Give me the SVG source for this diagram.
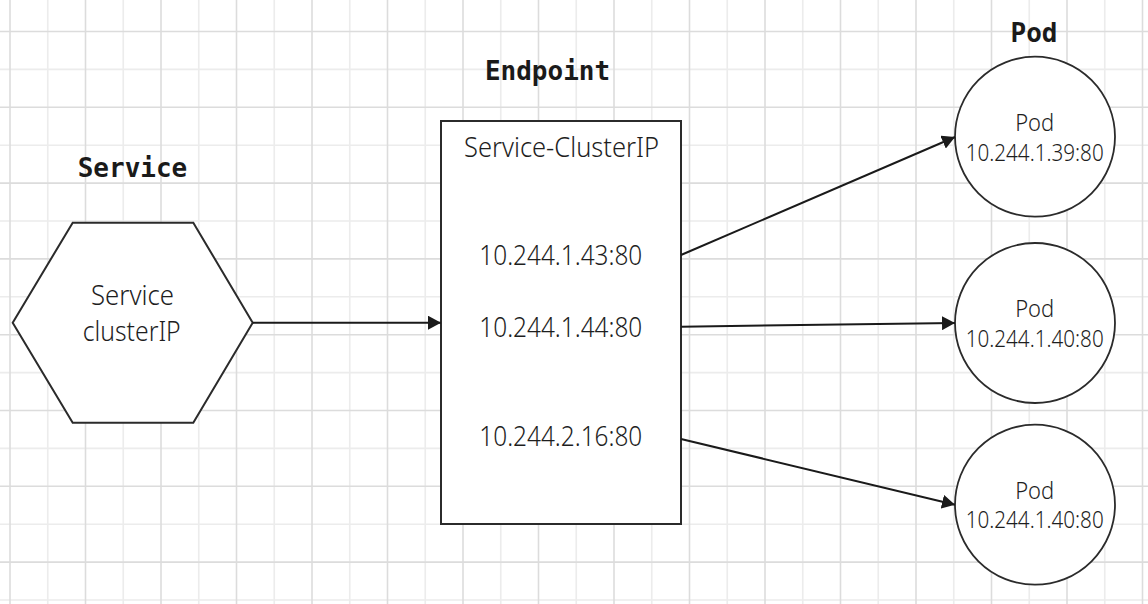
<svg xmlns="http://www.w3.org/2000/svg" width="1148" height="604" viewBox="0 0 1148 604">
  <style>
    .grid-d { stroke: #dcdcdc; stroke-width: 1.6; fill: none; }
    .grid-l { stroke: #ececec; stroke-width: 1.6; fill: none; }
    .shape { fill: #ffffff; stroke: #2b2b2b; stroke-width: 2; }
    .circle { fill: #ffffff; stroke: #2b2b2b; stroke-width: 1.8; }
    .conn { stroke: #1a1a1a; stroke-width: 2; fill: none; }
    .txt { font-family: "Noto Sans", "Open Sans", "Liberation Sans", sans-serif; font-weight: 300; fill: #1e1e1e; text-anchor: middle; font-size: 27.5px; }
    .pod { font-size: 23.5px; }
    .title { font-family: "DejaVu Sans Mono", "Liberation Mono", monospace; font-weight: bold; font-size: 26px; fill: #1a1a1a; text-anchor: middle; }
  </style>
  <defs>
    <marker id="arrow" markerUnits="userSpaceOnUse" markerWidth="14" markerHeight="14" refX="13" refY="7" orient="auto">
      <path d="M0,0 L13,7 L0,14 z" fill="#1a1a1a"/>
    </marker>
  </defs>
  <rect width="1148" height="604" fill="#ffffff"/>
  <g id="grid">
    <path class="grid-l" d="M47.75,0V604 M123.25,0V604 M198.75,0V604 M274.25,0V604 M349.75,0V604 M425.25,0V604 M500.75,0V604 M576.25,0V604 M651.75,0V604 M727.25,0V604 M802.75,0V604 M878.25,0V604 M953.75,0V604 M1029.25,0V604 M1104.75,0V604 M0,69.4H1148 M0,145.2H1148 M0,221H1148 M0,296.8H1148 M0,372.6H1148 M0,448.4H1148 M0,524.2H1148 M0,600H1148"/>
    <path class="grid-d" d="M10,0V604 M85.5,0V604 M161,0V604 M236.5,0V604 M312,0V604 M387.5,0V604 M463,0V604 M538.5,0V604 M614,0V604 M689.5,0V604 M765,0V604 M840.5,0V604 M916,0V604 M991.5,0V604 M1067,0V604 M1142.5,0V604 M0,31.5H1148 M0,107.3H1148 M0,183.1H1148 M0,258.9H1148 M0,334.7H1148 M0,410.5H1148 M0,486.3H1148 M0,562.1H1148"/>
  </g>
  <g id="titles">
    <text class="title" x="132.5" y="177.3">Service</text>
    <text class="title" x="547.5" y="80">Endpoint</text>
    <text class="title" x="1034" y="41.7">Pod</text>
  </g>
  <g id="service">
    <polygon class="shape" points="72.7,222.7 193.3,222.7 252.7,322.7 193.3,422.7 72.7,422.7 12.7,322.7"/>
    <text class="txt" x="132.5" y="305.3" textLength="83" lengthAdjust="spacingAndGlyphs">Service</text>
    <text class="txt" x="131.7" y="340.7" textLength="98" lengthAdjust="spacingAndGlyphs">clusterIP</text>
  </g>
  <g id="endpoint">
    <rect class="shape" x="441" y="121" width="240" height="403"/>
    <text class="txt" x="561.5" y="156.7" textLength="195" lengthAdjust="spacingAndGlyphs">Service-ClusterIP</text>
    <text class="txt" x="560.8" y="265" textLength="163" lengthAdjust="spacingAndGlyphs">10.244.1.43:80</text>
    <text class="txt" x="560.8" y="337.3" textLength="163" lengthAdjust="spacingAndGlyphs">10.244.1.44:80</text>
    <text class="txt" x="560.8" y="445.7" textLength="163" lengthAdjust="spacingAndGlyphs">10.244.2.16:80</text>
  </g>
  <g id="pod1">
    <circle class="circle" cx="1035" cy="136.7" r="80"/>
    <text class="txt pod" x="1034.7" y="130.7" textLength="39" lengthAdjust="spacingAndGlyphs">Pod</text>
    <text class="txt pod" x="1034.7" y="160.7" textLength="138" lengthAdjust="spacingAndGlyphs">10.244.1.39:80</text>
  </g>
  <g id="pod2">
    <circle class="circle" cx="1035" cy="323" r="80"/>
    <text class="txt pod" x="1034.7" y="317.3" textLength="39" lengthAdjust="spacingAndGlyphs">Pod</text>
    <text class="txt pod" x="1034.7" y="346.7" textLength="138" lengthAdjust="spacingAndGlyphs">10.244.1.40:80</text>
  </g>
  <g id="pod3">
    <circle class="circle" cx="1035" cy="504.7" r="80"/>
    <text class="txt pod" x="1034.7" y="499" textLength="39" lengthAdjust="spacingAndGlyphs">Pod</text>
    <text class="txt pod" x="1034.7" y="528.3" textLength="138" lengthAdjust="spacingAndGlyphs">10.244.1.40:80</text>
  </g>
  <g id="connectors">
    <line class="conn" x1="252.7" y1="322.7" x2="441" y2="322.7" marker-end="url(#arrow)"/>
    <line class="conn" x1="681" y1="255" x2="955" y2="137" marker-end="url(#arrow)"/>
    <line class="conn" x1="681" y1="326.7" x2="955" y2="323" marker-end="url(#arrow)"/>
    <line class="conn" x1="681" y1="439" x2="955" y2="504.7" marker-end="url(#arrow)"/>
  </g>
</svg>
